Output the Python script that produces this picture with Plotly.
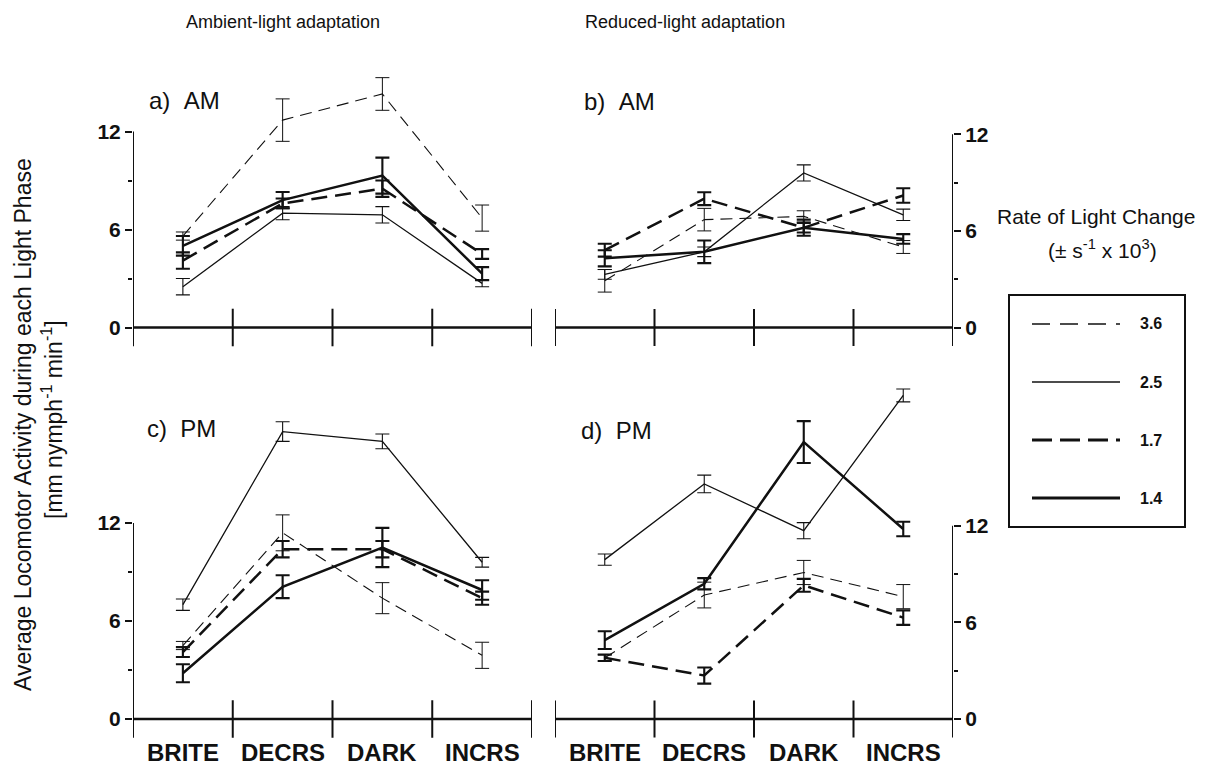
import plotly.graph_objects as go

W, H = 1207, 770

phases = ["BRITE", "DECRS", "DARK", "INCRS"]
rates = ["3.6", "2.5", "1.7", "1.4"]
y_ticks = [0, 6, 12]
y_minor = [3, 9]

# Mean locomotor activity (mm nymph^-1 min^-1) per light phase, with SE
# a) ambient-light adaptation, AM
amb_am_36 = [5.6, 12.7, 14.3, 6.7]
amb_am_25 = [2.5, 7.0, 6.9, 2.7]
amb_am_17 = [4.1, 7.6, 8.5, 4.5]
amb_am_14 = [5.0, 7.8, 9.3, 3.3]
amb_am_36_se = [0.25, 1.3, 1.0, 0.8]
amb_am_25_se = [0.5, 0.4, 0.5, 0.2]
amb_am_17_se = [0.5, 0.3, 0.5, 0.3]
amb_am_14_se = [0.6, 0.5, 1.1, 0.4]

# b) reduced-light adaptation, AM
red_am_36 = [2.9, 6.7, 6.9, 5.0]
red_am_25 = [3.3, 4.7, 9.6, 7.0]
red_am_17 = [4.8, 8.0, 6.2, 8.2]
red_am_14 = [4.3, 4.7, 6.2, 5.5]
red_am_36_se = [0.7, 0.7, 0.35, 0.4]
red_am_25_se = [0.3, 0.3, 0.5, 0.35]
red_am_17_se = [0.4, 0.4, 0.3, 0.45]
red_am_14_se = [0.5, 0.7, 0.5, 0.3]

# c) ambient-light adaptation, PM
amb_pm_36 = [4.5, 11.4, 7.4, 3.9]
amb_pm_25 = [7.0, 17.6, 17.0, 9.6]
amb_pm_17 = [4.1, 10.4, 10.4, 7.4]
amb_pm_14 = [2.8, 8.1, 10.5, 7.9]
amb_pm_36_se = [0.25, 1.1, 0.95, 0.8]
amb_pm_25_se = [0.35, 0.6, 0.45, 0.3]
amb_pm_17_se = [0.3, 0.5, 0.5, 0.4]
amb_pm_14_se = [0.55, 0.7, 1.2, 0.6]

# d) reduced-light adaptation, PM
red_pm_36 = [3.8, 7.7, 9.1, 7.6]
red_pm_25 = [9.9, 14.6, 11.7, 20.1]
red_pm_17 = [3.8, 2.7, 8.3, 6.3]
red_pm_14 = [4.9, 8.4, 17.2, 11.8]
red_pm_36_se = [0.2, 0.8, 0.75, 0.75]
red_pm_25_se = [0.35, 0.55, 0.5, 0.4]
red_pm_17_se = [0.2, 0.5, 0.4, 0.45]
red_pm_14_se = [0.55, 0.35, 1.3, 0.45]

INK = "#111111"
FONT = "Liberation Sans, Arial, sans-serif"

# line style for each rate of light change (plot dash, legend-sample dash)
style = {
    "3.6": dict(width=1.1, dash="12px,7px", key_dash="18px,10px"),
    "2.5": dict(width=1.3, dash="solid", key_dash="solid"),
    "1.7": dict(width=2.5, dash="16px,8px", key_dash="20px,8px"),
    "1.4": dict(width=2.5, dash="solid", key_dash="solid"),
}

panels = [
    dict(tag="", label="a)  AM", side="left", row="top",
         mean=[amb_am_36, amb_am_25, amb_am_17, amb_am_14],
         se=[amb_am_36_se, amb_am_25_se, amb_am_17_se, amb_am_14_se]),
    dict(tag="2", label="b)  AM", side="right", row="top",
         mean=[red_am_36, red_am_25, red_am_17, red_am_14],
         se=[red_am_36_se, red_am_25_se, red_am_17_se, red_am_14_se]),
    dict(tag="3", label="c)  PM", side="left", row="bottom",
         mean=[amb_pm_36, amb_pm_25, amb_pm_17, amb_pm_14],
         se=[amb_pm_36_se, amb_pm_25_se, amb_pm_17_se, amb_pm_14_se]),
    dict(tag="4", label="d)  PM", side="right", row="bottom",
         mean=[red_pm_36, red_pm_25, red_pm_17, red_pm_14],
         se=[red_pm_36_se, red_pm_25_se, red_pm_17_se, red_pm_14_se]),
]

# pixel geometry of the panel grid
col_px = {"left": (133, 532), "right": (555, 953)}
col_scale = {"left": 16.33, "right": 16.1}   # px per activity unit
row_zero = {"top": 327.5, "bottom": 719.0}   # px of the zero line
row_range = {"top": (-1.5, 16.0), "bottom": (-1.6, 21.5)}
label_px = {"a)  AM": (147, 100), "b)  AM": (582, 102),
            "c)  PM": (145, 428), "d)  PM": (579, 430)}
phase_label_y = 752

fig = go.Figure()
shapes, annotations = [], []
xs = list(range(len(phases)))

for p in panels:
    t = p["tag"]
    xa, ya = "x" + t, "y" + t
    lo, hi = row_range[p["row"]]
    s = col_scale[p["side"]]
    z = row_zero[p["row"]]
    top_px, bot_px = z - s * hi, z - s * lo
    x0p, x1p = col_px[p["side"]]

    for rate, m, e in zip(rates, p["mean"], p["se"]):
        st = style[rate]
        fig.add_trace(go.Scatter(
            x=xs, y=m, mode="lines", name=rate, showlegend=False,
            xaxis=xa, yaxis=ya,
            line=dict(color=INK, width=st["width"], dash=st["dash"]),
            error_y=dict(type="data", array=e, visible=True, color=INK,
                         thickness=max(1.0, st["width"] * 0.85), width=7),
        ))

    fig.layout["xaxis" + t] = dict(
        domain=[x0p / W, x1p / W], range=[-0.5, len(phases) - 0.5],
        anchor=ya, visible=False, fixedrange=True)
    fig.layout["yaxis" + t] = dict(
        domain=[1 - bot_px / H, 1 - top_px / H], range=[lo, hi],
        anchor=xa, side=p["side"], showline=False, showgrid=False,
        zeroline=False, tickmode="array", tickvals=y_ticks,
        ticks="outside", ticklen=7, tickwidth=2, tickcolor=INK,
        minor=dict(tickmode="array", tickvals=y_minor, ticks="outside",
                   ticklen=4, tickwidth=1.5, tickcolor=INK),
        tickfont=dict(family=FONT, size=21, color=INK, weight="bold"),
        fixedrange=True)

    # baseline, y spine and phase dividers crossing the baseline
    xl, xr = -0.5, len(phases) - 0.5
    shapes.append(dict(type="line", xref=xa, yref=ya, x0=xl, x1=xr, y0=0, y1=0,
                       line=dict(color=INK, width=2.4)))
    spine_x = xl if p["side"] == "left" else xr
    shapes.append(dict(type="line", xref=xa, yref=ya, x0=spine_x, x1=spine_x,
                       y0=0, y1=y_ticks[-1], line=dict(color=INK, width=2)))
    for k in range(len(phases) + 1):
        xd = xl + k
        shapes.append(dict(type="line", xref=xa, yref=ya, x0=xd, x1=xd,
                           y0=-1.15, y1=1.15, line=dict(color=INK, width=2)))

    lx, ly = label_px[p["label"]]
    annotations.append(dict(text=p["label"].replace("  ", "&nbsp;&nbsp;"),
                            x=lx / W, y=1 - ly / H, xref="paper", yref="paper",
                            xanchor="left", yanchor="middle", showarrow=False,
                            font=dict(family=FONT, size=24, color=INK)))

    if p["row"] == "bottom":
        for i, name in enumerate(phases):
            annotations.append(dict(text=name, x=i, y=1 - phase_label_y / H,
                                    xref=xa, yref="paper",
                                    xanchor="center", yanchor="middle",
                                    showarrow=False,
                                    font=dict(family=FONT, size=24, color=INK,
                                              weight="bold")))

# column headings, y-axis title and legend heading
head = [
    ("Ambient-light adaptation", 283, 22, 0, 18),
    ("Reduced-light adaptation", 685, 22, 0, 18),
    ("Average Locomotor Activity during each Light Phase", 23, 425, -90, 23),
    ("[mm nymph<sup>-1</sup> min<sup>-1</sup>]", 52, 420, -90, 23),
    ("Rate of Light Change", 1096, 216, 0, 21),
    ("(± s<sup>-1</sup> x 10<sup>3</sup>)", 1102, 249, 0, 21),
]
for text, hx, hy, ang, size in head:
    annotations.append(dict(text=text, x=hx / W, y=1 - hy / H, textangle=ang,
                            xref="paper", yref="paper", xanchor="center",
                            yanchor="middle", showarrow=False,
                            font=dict(family=FONT, size=size, color=INK)))

# legend box with line samples
box = (1009, 295, 1185, 527)
shapes.append(dict(type="rect", xref="paper", yref="paper",
                   x0=box[0] / W, x1=box[2] / W,
                   y0=1 - box[3] / H, y1=1 - box[1] / H,
                   line=dict(color=INK, width=2), fillcolor="rgba(0,0,0,0)"))
legend_rows = [324, 382, 440, 498]
for rate, ry in zip(rates, legend_rows):
    st = style[rate]
    shapes.append(dict(type="line", xref="paper", yref="paper",
                       x0=1032 / W, x1=1120 / W, y0=1 - ry / H, y1=1 - ry / H,
                       line=dict(color=INK, width=st["width"] + 0.3,
                                 dash=st["key_dash"])))
    annotations.append(dict(text=rate, x=1138 / W, y=1 - ry / H,
                            xref="paper", yref="paper", xanchor="left",
                            yanchor="middle", showarrow=False,
                            font=dict(family=FONT, size=16, color=INK,
                                      weight="bold")))

fig.update_layout(
    width=W, height=H, margin=dict(l=0, r=0, t=0, b=0),
    paper_bgcolor="white", plot_bgcolor="white",
    shapes=shapes, annotations=annotations, showlegend=False,
    font=dict(family=FONT, color=INK),
)

fig.write_html("out.html", config={"displayModeBar": False})
